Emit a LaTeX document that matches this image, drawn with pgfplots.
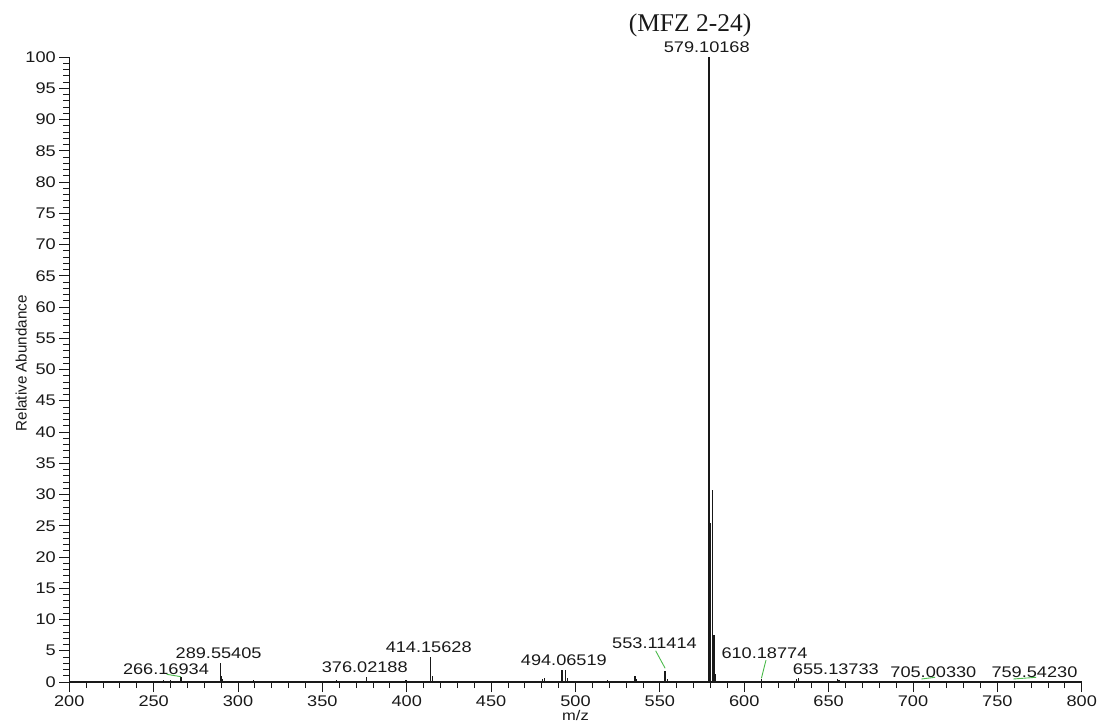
\documentclass[border=0pt]{standalone}
\usepackage{fontspec}
\usepackage{pgfplots}
\pgfplotsset{compat=1.18}
\setmainfont{Liberation Sans}
\newfontfamily\widesans[FakeStretch=1.18]{Liberation Sans}
\newfontfamily\titleserif{Liberation Serif}
\newcommand\tickfont{\widesans\fontsize{15.4}{18}\selectfont}
\definecolor{leader}{RGB}{76,187,76}
\definecolor{ink}{RGB}{25,25,25}

% centroid list of the mass spectrum: m/z, relative abundance
\pgfplotstableread{
mz      ab
212.0   0.15
217.3   0.15
222.2   0.15
239.0   0.2
255.8   0.25
259.8   0.3
266.17  0.8
280.0   0.2
284.0   0.2
289.55  3.1
290.05  0.9
290.55  0.4
304.3   0.2
309.0   0.25
358.5   0.25
376.02  0.85
393.5   0.2
399.6   0.25
414.16  4.05
415.16  0.9
441.9   0.15
480.6   0.4
481.6   0.7
492.06  1.9
494.07  1.9
495.07  0.7
519.0   0.3
535.3   1.0
536.3   0.4
553.11  1.8
554.7   0.5
579.10  100
580.10  25.4
581.10  30.7
582.10  7.5
583.10  1.2
610.19  0.45
630.8   0.5
632.1   0.6
655.14  0.5
656.14  0.3
705.00  0.15
759.54  0.15
}\spectrum

\begin{document}
\begin{tikzpicture}
\useasboundingbox (0,0) rectangle (1100pt,725pt);
\begin{axis}[
  at={(69.3pt,43pt)}, anchor=south west,
  scale only axis, width=1012.4pt, height=625pt,
  xmin=200, xmax=800, ymin=0, ymax=100,
  axis x line=bottom, axis y line=left,
  axis line style={-, ink},
  x axis line style={line width=1.8pt},
  y axis line style={line width=1pt},
  xtick distance=50, ytick distance=5,
  minor x tick num=4, minor y tick num=4,
  tick align=outside,
  major tick length=10pt, minor tick length=6pt,
  tick style={ink, line width=0.9pt},
  /pgf/number format/assume math mode=true,
  ticklabel style={font=\tickfont, text=ink},
  xlabel={m/z}, ylabel={Relative Abundance},
  xlabel style={font=\widesans\fontsize{14}{16}\selectfont, text=ink,
    at={(axis description cs:0.5,-0.053)}, anchor=center},
  ylabel style={font=\fontsize{15.2}{17}\selectfont, text=ink,
    at={(axis description cs:-0.0475,0.51)}, anchor=center},
  clip=false,
]
\addplot[ycomb, no marks, ink, line width=1.3pt] table[x=mz, y=ab] {\spectrum};

% peak annotations
\begin{scope}[every node/.style={font=\tickfont, text=ink, inner sep=0pt, anchor=center}]
\node at (axis cs:567.9,105.1) {\titleserif\fontsize{25.5}{28}\selectfont (MFZ 2-24)};
\node at (axis cs:577.8,101.5) {579.10168};
\node at (axis cs:288.5,4.64) {289.55405};
\node at (axis cs:257.3,2.08) {266.16934};
\node at (axis cs:375.1,2.32) {376.02188};
\node at (axis cs:413.0,5.6) {414.15628};
\node at (axis cs:493.1,3.44) {494.06519};
\node at (axis cs:546.8,6.16) {553.11414};
\node at (axis cs:612.0,4.56) {610.18774};
\node at (axis cs:654.3,2.0) {655.13733};
\node at (axis cs:712.1,1.6) {705.00330};
\node at (axis cs:772.0,1.6) {759.54230};
\end{scope}

% leader lines from shifted labels to their peaks
\begin{scope}[leader, line width=0.9pt]
\draw (axis cs:257.7,1.23) -- (axis cs:266.17,0.85);
\draw (axis cs:547.5,5.0) -- (axis cs:553.11,2.2);
\draw (axis cs:612.9,3.5) -- (axis cs:610.19,0.6);
\draw (axis cs:705.0,0.48) -- (axis cs:713.1,0.75);
\draw (axis cs:759.54,0.48) -- (axis cs:773.0,0.75);
\end{scope}
\end{axis}
\end{tikzpicture}
\end{document}
